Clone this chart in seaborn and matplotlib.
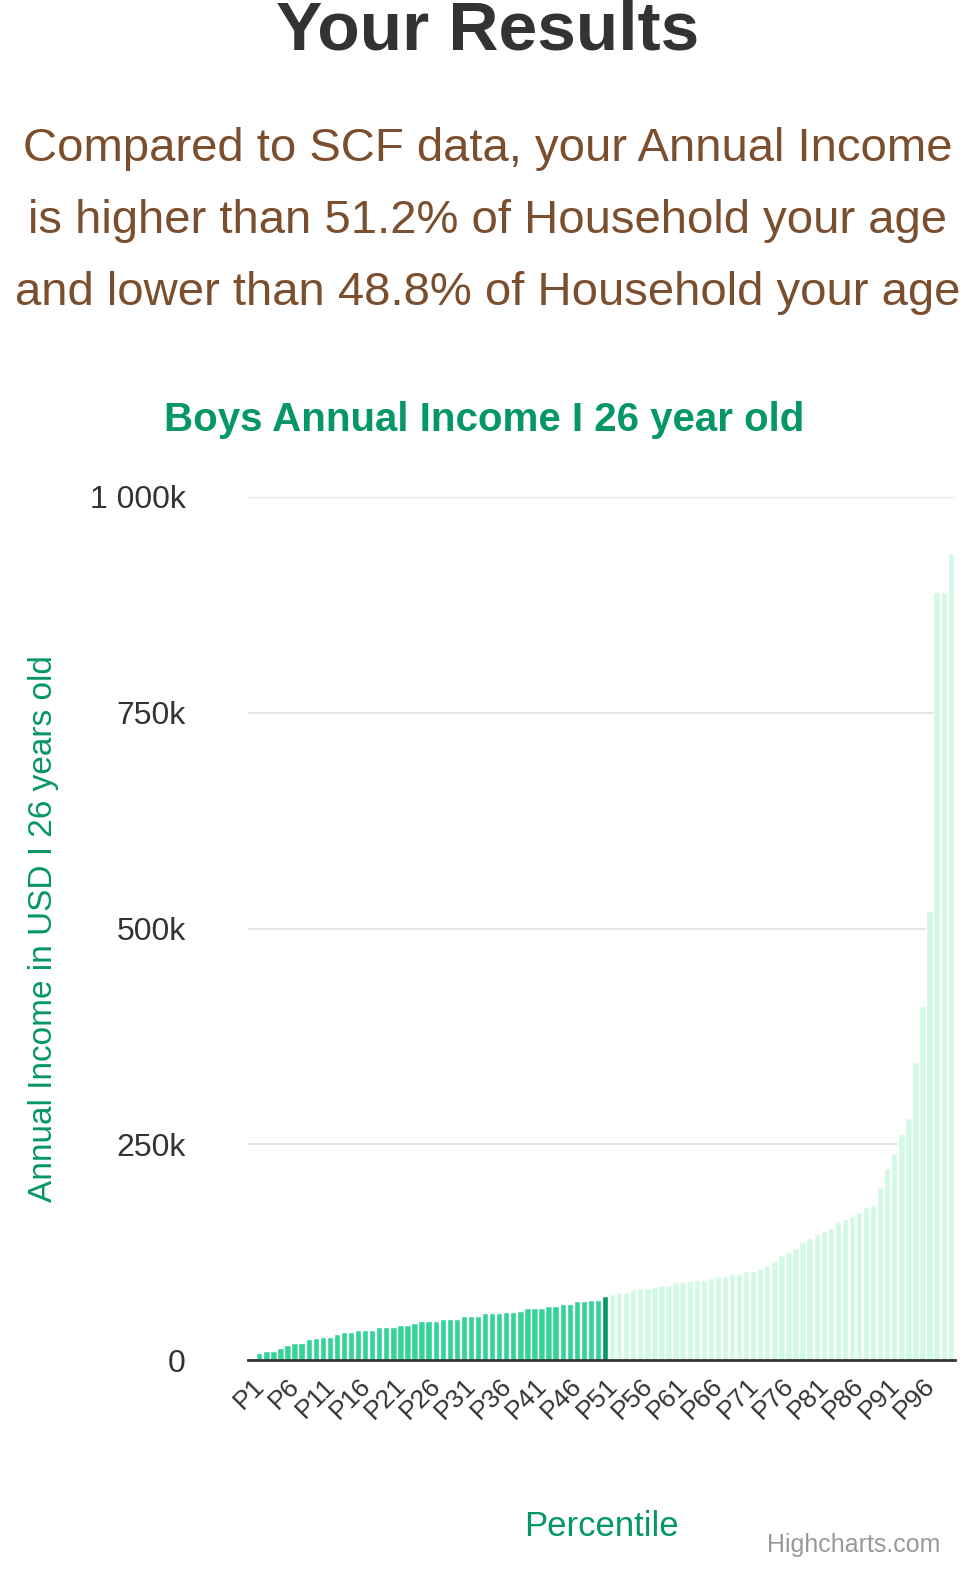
import matplotlib
matplotlib.use("Agg")
import matplotlib.pyplot as plt
import seaborn as sns
import pandas as pd

percentiles = ["P%d" % i for i in range(1, 101)]
income_k = [2, 8, 10, 10, 14, 17, 20, 20, 24, 26,
            27, 27, 30, 32, 32, 35, 35, 35, 38, 38,
            38, 41, 41, 43, 45, 45, 45, 48, 48, 48,
            51, 51, 51, 54, 54, 54, 56, 56, 57, 60,
            60, 60, 63, 63, 65, 65, 68, 68, 70, 70,
            74, 76, 79, 79, 82, 83, 83, 85, 87, 87,
            90, 90, 92, 93, 93, 95, 97, 97, 100, 100,
            103, 103, 107, 110, 115, 122, 125, 130, 137, 141,
            146, 150, 153, 160, 163, 167, 172, 177, 180, 200,
            222, 240, 262, 280, 345, 410, 520, 890, 890, 935]
user_rank = 51

groups = ["below" if i < user_rank else ("you" if i == user_rank else "above")
          for i in range(1, 101)]
df = pd.DataFrame({"pct": percentiles, "val": [v * 1000 for v in income_k], "grp": groups})

sns.set_style("white")
plt.rcParams['font.family'] = ['Liberation Sans', 'DejaVu Sans']

fig = plt.figure(figsize=(9.75, 15.72), dpi=100)
ax = fig.add_axes([248 / 975, 1 - 1360 / 1572, (955 - 248) / 975, (1360 - 497) / 1572])

palette = {"below": "#34d399", "you": "#059669", "above": "#d1fae5"}
sns.barplot(data=df, x="pct", y="val", hue="grp", palette=palette, dodge=False,
            width=0.9, legend=False, ax=ax, saturation=1)

ax.set_ylim(0, 1000000)
ax.set_xlim(-0.6, 99.6)
ax.set_yticks([0, 250000, 500000, 750000, 1000000])
ax.set_yticklabels(["0", "250k", "500k", "750k", "1 000k"], fontsize=23, color="#333333")
ax.yaxis.grid(True, color="#e6e6e6", linewidth=1.5)
ax.set_axisbelow(True)
ax.tick_params(axis="y", length=0, pad=45)
ticks = list(range(0, 100, 5))
ax.set_xticks(ticks)
ax.set_xticklabels([percentiles[i] for i in ticks], rotation=45, fontsize=19,
                   color="#333333", ha="right", rotation_mode="anchor")
ax.tick_params(axis="x", length=0, pad=10)
for s in ["top", "right", "left"]:
    ax.spines[s].set_visible(False)
ax.spines["bottom"].set_color("#333333")
ax.spines["bottom"].set_linewidth(2)
ax.set_xlabel("Percentile", fontsize=25, color="#059669", labelpad=62)
ax.set_ylabel("Annual Income in USD I 26 years old", fontsize=24, color="#059669", labelpad=22)

fig.text(0.5, 1 - 32 / 1572, "Your Results", ha="center", va="center",
         fontsize=50, fontweight="bold", color="#333333")
sub = ["Compared to SCF data, your Annual Income",
       "is higher than 51.2% of Household your age",
       "and lower than 48.8% of Household your age"]
for i, line in enumerate(sub):
    fig.text(0.5, 1 - (149 + 72 * i) / 1572, line, ha="center", va="center",
             fontsize=34, color="#7b4f2e")
fig.text(0.497, 1 - 420 / 1572, "Boys Annual Income I 26 year old", ha="center",
         va="center", fontsize=29, fontweight="bold", color="#059669")
fig.text(940 / 975, 1 - 1545 / 1572, "Highcharts.com", ha="right", va="center",
         fontsize=18, color="#999999")

fig.savefig("out.png", dpi=100)
